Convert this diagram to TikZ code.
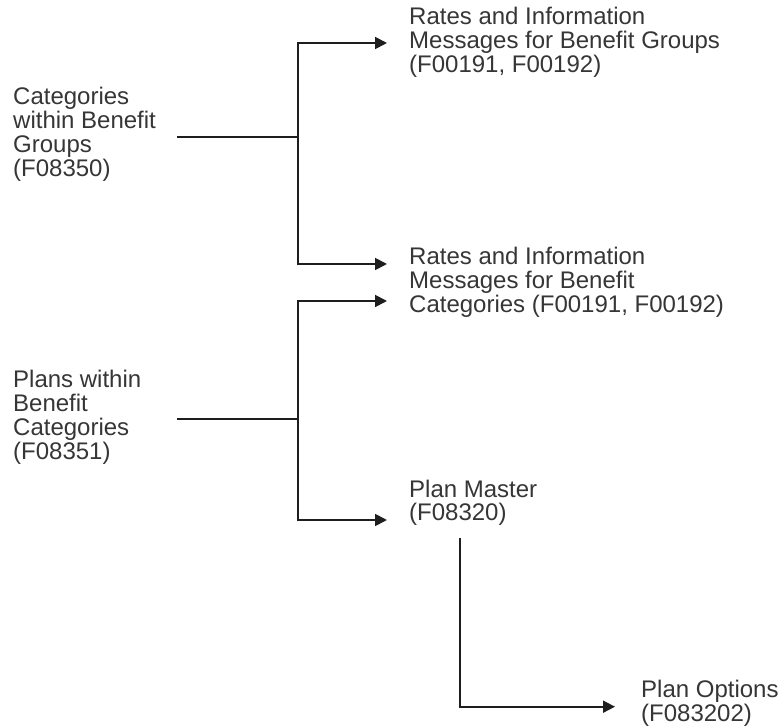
\documentclass[tikz,border=0pt]{standalone}
\usepackage{fontspec}
\setmainfont{Liberation Sans}
\usetikzlibrary{arrows.meta}
\definecolor{txtgray}{HTML}{363636}
\definecolor{linegray}{HTML}{1E1E1E}
\tikzset{
  lbl/.style={anchor=base west, inner sep=0pt, align=left, text=txtgray,
    font=\fontsize{24}{24}\selectfont},
  conn/.style={draw=linegray, line width=1.8pt},
  arr/.style={conn, -{Triangle[length=12pt,width=12pt]}},
}
\begin{document}
\begin{tikzpicture}[x=1pt,y=-1pt]
\useasboundingbox[fill=white] (0,0) rectangle (780,727);
% text nodes (anchored at the baseline of their last line)
\node[lbl] (cat)   at (13,177)    {Categories\\within Benefit\\Groups\\(F08350)};
\node[lbl] (plans) at (13,460)    {Plans within\\Benefit\\Categories\\(F08351)};
\node[lbl] (rg)    at (409,73)    {Rates and Information\\Messages for Benefit Groups\\(F00191, F00192)};
\node[lbl] (rc)    at (409,312.5) {Rates and Information\\Messages for Benefit\\Categories (F00191, F00192)};
\node[lbl] (pm)    at (409,521)   {Plan Master\\(F08320)};
\node[lbl] (po)    at (641,721)   {Plan Options\\(F083202)};
% connector points
\coordinate (c1) at (177,136.7);
\coordinate (j1) at (298,136.7);
\coordinate (t1) at (298,43);
\coordinate (h1) at (387,43);
\coordinate (b1) at (298,264);
\coordinate (h2) at (387,264);
\coordinate (c2) at (177,419);
\coordinate (j2) at (298,419);
\coordinate (t2) at (298,301);
\coordinate (h3) at (387,301);
\coordinate (b2) at (298,520);
\coordinate (h4) at (387,520);
\coordinate (s3) at (460,538);
\coordinate (k3) at (460,706.7);
\coordinate (h5) at (615,706.7);
% connectors
\draw[conn] (c1) -- (j1);
\draw[arr] (j1) -- (t1) -- (h1);
\draw[arr] (j1) -- (b1) -- (h2);
\draw[conn] (c2) -- (j2);
\draw[arr] (j2) -- (t2) -- (h3);
\draw[arr] (j2) -- (b2) -- (h4);
\draw[arr] (s3) -- (k3) -- (h5);
\end{tikzpicture}
\end{document}
